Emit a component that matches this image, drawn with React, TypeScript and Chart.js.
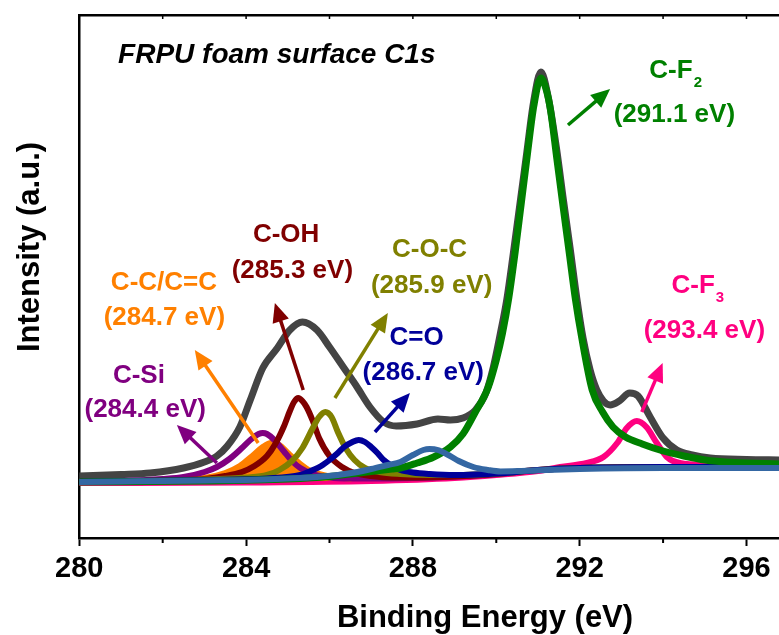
import React, { useEffect, useRef } from "react";
import { Chart, registerables } from "chart.js";

Chart.register(...registerables);

// ---- axis ranges / ticks ----
const X_MIN = 280;
const X_MAX = 296.78;
const Y_MIN = 0;
const Y_MAX = 523;
const X_MAJOR_STEP = 4;
const X_MINOR_TICKS = [282, 286, 290, 294];
const X_TOP_TICKS = [282, 284, 286, 288, 290, 292, 294, 296];
const X_TITLE = "Binding Energy (eV)";
const Y_TITLE = "Intensity (a.u.)";
const PLOT_TITLE = "FRPU foam surface C1s";

type P = [number, number];

// ---- series (binding energy eV, intensity a.u.) ----
const ENVELOPE: P[] = [
  [280, 62], [281, 63.5], [281.7, 65], [282.5, 70], [283, 76], [283.3, 82], [283.55, 92],
  [283.85, 111], [284.1, 138], [284.4, 170], [284.75, 190], [285.05, 208], [285.35, 216],
  [285.7, 208], [286, 191], [286.33, 171], [286.66, 151], [286.97, 131], [287.3, 116],
  [287.6, 112], [288.1, 114], [288.6, 119], [288.9, 118], [289.2, 120], [289.5, 128],
  [289.75, 145], [289.93, 171], [290.1, 205], [290.25, 238], [290.4, 282], [290.57, 335],
  [290.73, 385], [290.89, 435], [291.07, 466], [291.25, 440], [291.45, 388], [291.61, 338],
  [291.77, 290], [291.93, 240], [292.08, 200], [292.25, 168], [292.41, 148], [292.57, 137],
  [292.73, 133], [292.95, 137], [293.2, 145], [293.4, 142], [293.69, 121], [294, 100],
  [294.33, 88], [294.7, 83], [295.13, 80], [296, 78.5], [296.8, 78],
];

const C_SI: P[] = [
  [280, 56.5], [281, 57], [282, 59], [282.5, 61], [283, 66], [283.3, 71], [283.6, 79],
  [283.9, 90], [284.1, 98], [284.3, 104], [284.4, 105], [284.5, 104], [284.7, 97],
  [284.9, 87], [285.1, 77], [285.3, 70], [285.6, 64], [286, 60.5], [286.5, 59.5],
  [287, 59.5], [288, 60], [289, 61.5], [290, 64], [291, 68], [292, 70], [294, 71], [296.8, 71],
];

const C_C: P[] = [
  [281.5, 57], [282, 57.5], [283, 60], [283.5, 65], [283.85, 72], [284.15, 82], [284.4, 91],
  [284.6, 95], [284.8, 93], [285, 85], [285.3, 74], [285.55, 67], [286, 61.5], [286.5, 59.5],
];

const C_OH: P[] = [
  [280, 56.5], [282, 57.5], [283, 59], [283.5, 62], [283.9, 66], [284.2, 72], [284.5, 82],
  [284.7, 94], [284.9, 111], [285.05, 127], [285.15, 136], [285.25, 140], [285.35, 137],
  [285.45, 131], [285.6, 117], [285.75, 100], [286, 82], [286.3, 71], [286.6, 65],
  [287, 62], [287.5, 60.5], [288, 60.5], [289, 61.5], [290, 64], [291, 68], [292, 70],
  [294, 71], [296.8, 71],
];

const C_O_C: P[] = [
  [280, 56.5], [283, 58.5], [284, 60.5], [284.5, 63], [284.8, 68], [285.1, 77], [285.35, 90],
  [285.6, 110], [285.75, 121], [285.9, 126], [286.05, 121], [286.2, 106], [286.4, 89],
  [286.6, 78], [286.85, 70], [287.2, 66], [287.7, 64], [288.5, 63], [289, 63], [290, 64.5],
  [291, 68], [292, 70], [294, 71], [296.8, 71],
];

const C_EQ_O: P[] = [
  [280, 56.5], [283, 58], [284.5, 59.5], [285.3, 63], [285.6, 68], [285.8, 72], [286, 78],
  [286.2, 85], [286.35, 91], [286.55, 96], [286.7, 98], [286.85, 96], [287, 91], [287.15, 85],
  [287.3, 78], [287.5, 72], [287.7, 68], [288, 65.5], [288.4, 64], [289, 63], [290, 64.5],
  [291, 68], [292, 70], [294, 71], [296.8, 71],
];

const PEAK_288: P[] = [
  [280, 56], [281, 56.5], [282, 57], [283, 57.5], [284, 58], [285, 59.5], [285.7, 61],
  [286.2, 63], [286.6, 65.5], [287, 69], [287.4, 73], [287.7, 76], [288, 83], [288.25, 88],
  [288.4, 89], [288.6, 88], [288.85, 83], [289.1, 77], [289.45, 71], [289.8, 68], [290.1, 66.5],
  [290.6, 67], [291.2, 68], [292, 69], [294, 70], [296.8, 70],
];

const C_F2: P[] = [
  [280, 56], [283, 57], [285, 59], [286, 61.5], [286.5, 64], [287, 66.5], [287.5, 69],
  [287.7, 70], [288.1, 75], [288.5, 81], [288.9, 91], [289.2, 104], [289.5, 126], [289.8, 150],
  [290, 178], [290.15, 205], [290.3, 240], [290.45, 285], [290.6, 335], [290.75, 385],
  [290.9, 432], [291.07, 460], [291.2, 448], [291.3, 428], [291.45, 380], [291.6, 332],
  [291.75, 285], [291.9, 238], [292.05, 200], [292.3, 148], [292.55, 126], [292.8, 111],
  [293.1, 101], [293.5, 94], [294, 87], [294.5, 82], [295, 78], [295.7, 75.5], [296.8, 74],
];

const C_F3: P[] = [
  [280, 55], [284, 55.5], [287, 57], [289, 60], [290, 63], [291, 67], [291.53, 71],
  [292.17, 75], [292.57, 81], [292.9, 95], [293.13, 110], [293.37, 117], [293.6, 111],
  [293.85, 95], [294.09, 81], [294.4, 75], [295.1, 73], [296.8, 72],
];

// ---- colours ----
const GREY = "#444444";
const GREEN = "#008000";
const PINK = "#FF0080";
const STEEL = "#3467A3";
const PURPLE = "#800080";
const ORANGE = "#FF8000";
const BROWN = "#800000";
const OLIVE = "#808000";
const NAVY = "#000099";

const C_C_FILL_BASE = 57;

// ---- annotations (data coordinates) ----
type Label = { text: string; sub?: string; color: string; e: number; i: number };
const LABELS: Label[] = [
  { text: "C-F", sub: "2", color: GREEN, e: 294.29, i: 460 },
  { text: "(291.1 eV)", color: GREEN, e: 294.27, i: 416 },
  { text: "C-F", sub: "3", color: PINK, e: 294.82, i: 245 },
  { text: "(293.4 eV)", color: PINK, e: 294.99, i: 200 },
  { text: "C=O", color: NAVY, e: 288.09, i: 193 },
  { text: "(286.7 eV)", color: NAVY, e: 288.25, i: 158 },
  { text: "C-O-C", color: OLIVE, e: 288.4, i: 281 },
  { text: "(285.9 eV)", color: OLIVE, e: 288.45, i: 245 },
  { text: "C-OH", color: BROWN, e: 284.96, i: 296 },
  { text: "(285.3 eV)", color: BROWN, e: 285.11, i: 260 },
  { text: "C-C/C=C", color: ORANGE, e: 282.03, i: 248 },
  { text: "(284.7 eV)", color: ORANGE, e: 282.04, i: 213 },
  { text: "C-Si", color: PURPLE, e: 281.43, i: 155 },
  { text: "(284.4 eV)", color: PURPLE, e: 281.58, i: 121 },
];

type Arrow = { color: string; e0: number; i0: number; e1: number; i1: number };
const ARROWS: Arrow[] = [
  { color: GREEN, e0: 291.72, i0: 413, e1: 292.73, i1: 449 },
  { color: PINK, e0: 293.49, i0: 126, e1: 293.99, i1: 175 },
  { color: NAVY, e0: 287.09, i0: 106, e1: 287.93, i1: 145 },
  { color: OLIVE, e0: 286.13, i0: 140, e1: 287.4, i1: 225 },
  { color: BROWN, e0: 285.37, i0: 148, e1: 284.69, i1: 235 },
  { color: ORANGE, e0: 284.29, i0: 95, e1: 282.77, i1: 188 },
  { color: PURPLE, e0: 283.3, i0: 75, e1: 282.34, i1: 113 },
];

const TITLE_POS = { e: 280.93, i: 475 };

const FONT = '"Liberation Sans", Arial, Helvetica, sans-serif';

const toXY = (arr: P[]) => arr.map(([x, y]) => ({ x, y }));

const decorPlugin = {
  id: "decor",
  afterDatasetsDraw(chart: any) {
    const { ctx, chartArea: ca, scales } = chart;
    const xs = scales.x;
    const ys = scales.y;
    ctx.save();

    // bottom minor ticks (outward) and top inward ticks
    ctx.strokeStyle = "#000";
    ctx.lineWidth = 2;
    ctx.beginPath();
    for (const v of X_MINOR_TICKS) {
      const px = xs.getPixelForValue(v);
      ctx.moveTo(px, ca.bottom);
      ctx.lineTo(px, ca.bottom + 5);
    }
    ctx.stroke();
    const topY = ys.getPixelForValue(Y_MAX);
    ctx.lineWidth = 1.5;
    ctx.beginPath();
    for (const v of X_TOP_TICKS) {
      const px = xs.getPixelForValue(v);
      ctx.moveTo(px, topY);
      ctx.lineTo(px, topY + 4);
    }
    ctx.stroke();

    // arrows
    for (const a of ARROWS) {
      const x0 = xs.getPixelForValue(a.e0);
      const y0 = ys.getPixelForValue(a.i0);
      const x1 = xs.getPixelForValue(a.e1);
      const y1 = ys.getPixelForValue(a.i1);
      const ang = Math.atan2(y1 - y0, x1 - x0);
      const headLen = 19;
      const headHalf = 8.5;
      const bx = x1 - Math.cos(ang) * headLen;
      const by = y1 - Math.sin(ang) * headLen;
      ctx.strokeStyle = a.color;
      ctx.fillStyle = a.color;
      ctx.lineWidth = 3.5;
      ctx.lineCap = "butt";
      ctx.beginPath();
      ctx.moveTo(x0, y0);
      ctx.lineTo(bx + Math.cos(ang) * 2, by + Math.sin(ang) * 2);
      ctx.stroke();
      ctx.beginPath();
      ctx.moveTo(x1, y1);
      ctx.lineTo(bx - Math.sin(ang) * headHalf, by + Math.cos(ang) * headHalf);
      ctx.lineTo(bx + Math.sin(ang) * headHalf, by - Math.cos(ang) * headHalf);
      ctx.closePath();
      ctx.fill();
    }

    // labels
    ctx.textBaseline = "alphabetic";
    for (const l of LABELS) {
      const cx = xs.getPixelForValue(l.e);
      const by = ys.getPixelForValue(l.i);
      ctx.fillStyle = l.color;
      ctx.font = `bold 26px ${FONT}`;
      const wMain = ctx.measureText(l.text).width;
      let wSub = 0;
      if (l.sub) {
        ctx.font = `bold 15px ${FONT}`;
        wSub = ctx.measureText(l.sub).width;
      }
      const start = cx - (wMain + wSub) / 2;
      ctx.textAlign = "left";
      ctx.font = `bold 26px ${FONT}`;
      ctx.fillText(l.text, start, by);
      if (l.sub) {
        ctx.font = `bold 15px ${FONT}`;
        ctx.fillText(l.sub, start + wMain + 1, by + 9);
      }
    }

    // plot title
    ctx.fillStyle = "#000";
    ctx.font = `italic bold 28px ${FONT}`;
    ctx.textAlign = "left";
    ctx.fillText(PLOT_TITLE, xs.getPixelForValue(TITLE_POS.e), ys.getPixelForValue(TITLE_POS.i));

    // axis titles
    ctx.font = `bold 31px ${FONT}`;
    ctx.textAlign = "center";
    ctx.fillText(X_TITLE, 485, ca.bottom + 89);
    ctx.save();
    ctx.translate(39, 247);
    ctx.rotate(-Math.PI / 2);
    ctx.fillText(Y_TITLE, 0, 0);
    ctx.restore();

    ctx.restore();
  },
};

export default function App() {
  const ref = useRef<HTMLCanvasElement | null>(null);

  useEffect(() => {
    if (!ref.current) return;
    const line = (label: string, data: P[], color: string, width: number, extra: any = {}) => ({
      label,
      data: toXY(data),
      borderColor: color,
      backgroundColor: color,
      borderWidth: width,
      pointRadius: 0,
      pointHoverRadius: 0,
      cubicInterpolationMode: "monotone",
      borderJoinStyle: "round",
      borderCapStyle: "round",
      fill: false,
      ...extra,
    });
    // first dataset is drawn on top
    const datasets = [
      line("Peak 288.4", PEAK_288, STEEL, 6),
      line("C-F2", C_F2, GREEN, 7),
      line("C=O", C_EQ_O, NAVY, 6),
      line("C-O-C", C_O_C, OLIVE, 6),
      line("C-OH", C_OH, BROWN, 6),
      line("C-Si", C_SI, PURPLE, 6),
      line("C-C/C=C", C_C, ORANGE, 6, { fill: { value: C_C_FILL_BASE }, backgroundColor: ORANGE }),
      line("C-F3", C_F3, PINK, 6),
      line("Envelope", ENVELOPE, GREY, 7),
    ];
    const chart = new Chart(ref.current, {
      type: "line",
      data: { datasets: datasets as any },
      options: {
        animation: false,
        responsive: false,
        maintainAspectRatio: false,
        layout: { padding: { top: 0, right: 0, left: 0, bottom: 0 } },
        plugins: {
          legend: { display: false },
          tooltip: { enabled: false },
          title: { display: false },
        },
        scales: {
          x: {
            type: "linear",
            position: "bottom",
            min: X_MIN,
            max: X_MAX,
            afterFit: (s: any) => {
              s.height = 97;
            },
            border: { display: true, color: "#000", width: 2.5 },
            grid: {
              display: true,
              drawOnChartArea: false,
              drawTicks: true,
              tickLength: 8,
              tickColor: "#000",
              tickWidth: 2,
            },
            ticks: {
              stepSize: X_MAJOR_STEP,
              includeBounds: false,
              autoSkip: false,
              maxRotation: 0,
              color: "#000",
              padding: 8,
              font: { family: FONT, size: 29, weight: "bold", lineHeight: 1 },
              callback: (v: any) => String(v),
            },
          },
          xTop: {
            type: "linear",
            position: "top",
            min: X_MIN,
            max: X_MAX,
            afterFit: (s: any) => {
              s.height = 15;
            },
            border: { display: true, color: "#000", width: 2.5 },
            grid: { display: true, drawOnChartArea: false, drawTicks: false },
            ticks: { display: false },
          },
          y: {
            type: "linear",
            min: Y_MIN,
            max: Y_MAX,
            afterFit: (s: any) => {
              s.width = 79.3;
            },
            border: { display: true, color: "#000", width: 2.5 },
            grid: { display: false },
            ticks: { display: false },
          },
        },
      } as any,
      plugins: [decorPlugin],
    });
    return () => chart.destroy();
  }, []);

  return (
    <div style={{ position: "absolute", left: 0, top: 0, width: 779, height: 635, background: "#fff" }}>
      <canvas ref={ref} width={779} height={635} style={{ display: "block" }} />
    </div>
  );
}
